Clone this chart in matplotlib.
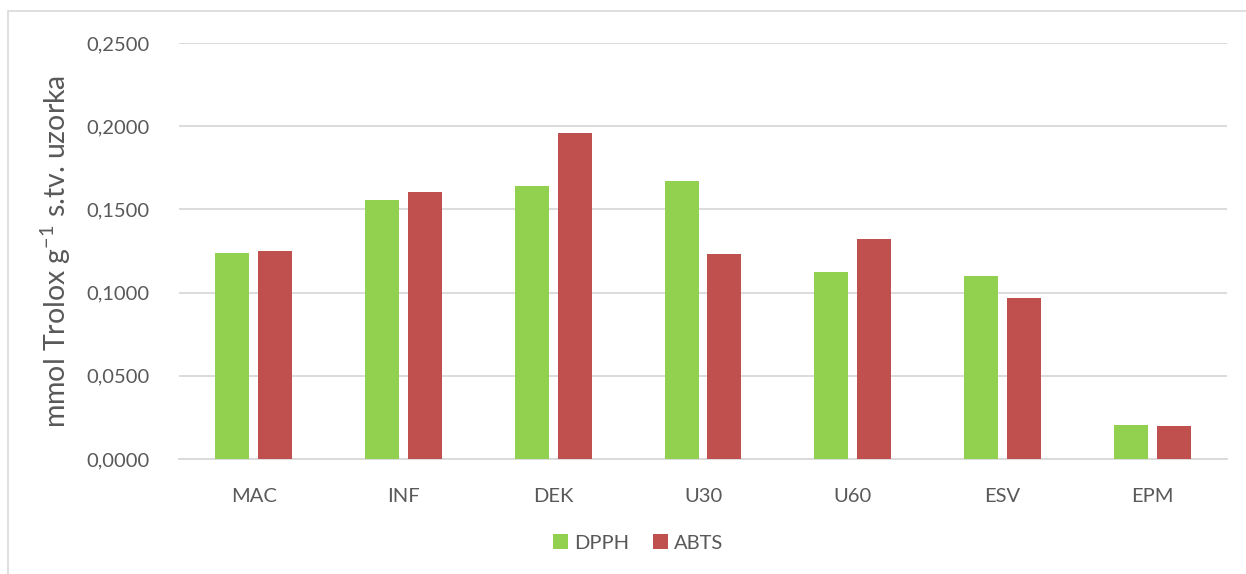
import matplotlib
matplotlib.use("Agg")
import matplotlib.pyplot as plt
import matplotlib.patches as mpatches
import numpy as np

categories = ["MAC", "INF", "DEK", "U30", "U60", "ESV", "EPM"]
dpph = [0.1238, 0.1557, 0.1640, 0.1670, 0.1122, 0.1100, 0.0204]
abts = [0.1250, 0.1605, 0.1960, 0.1232, 0.1320, 0.0970, 0.0198]
series_names = ["DPPH", "ABTS"]

plt.rcParams['font.family'] = ['Lato', 'DejaVu Sans']
plt.rcParams['mathtext.fontset'] = 'custom'
plt.rcParams['mathtext.rm'] = 'Lato'
plt.rcParams['mathtext.it'] = 'Lato:italic'

green = '#92D050'
red = '#C0504D'
text_color = '#595959'
grid_color = '#D9D9D9'

fig = plt.figure(figsize=(12.46, 5.74), dpi=100)
ax = fig.add_axes([179 / 1246, 1 - 459 / 574, 1048 / 1246, 416 / 574])

# light chart-area border
fig.patches.append(mpatches.Rectangle((8 / 1246, -0.1), 1.2, 1 - 11 / 574 + 0.1,
                                      transform=fig.transFigure, fill=False,
                                      edgecolor='#D9D9D9', linewidth=1.2))

x = np.arange(len(categories))
w = 0.227
off = 0.143
ax.bar(x - off, dpph, width=w, color=green, label=series_names[0], zorder=3)
ax.bar(x + off, abts, width=w, color=red, label=series_names[1], zorder=3)

ax.set_xlim(-0.5, len(categories) - 0.5)
ax.set_ylim(0, 0.25)
ticks = np.arange(0, 0.2501, 0.05)
ax.set_yticks(ticks)
ax.set_yticklabels([f"{v:.4f}".replace('.', ',') for v in ticks])
ax.set_xticks(x)
ax.set_xticklabels(categories)

ax.grid(axis='y', color=grid_color, linewidth=1.3, zorder=0)
ax.set_axisbelow(True)
for s in ['top', 'right', 'left']:
    ax.spines[s].set_visible(False)
ax.spines['bottom'].set_color(grid_color)
ax.spines['bottom'].set_linewidth(1.3)
ax.tick_params(axis='both', length=0, colors=text_color, labelsize=14.5)
ax.tick_params(axis='y', pad=21)
ax.tick_params(axis='x', pad=21)

ax.set_ylabel(r"mmol Trolox g$^{-1}$ s.tv. uzorka", fontsize=20.5, color=text_color, labelpad=10)

fig.legend(loc='center', bbox_to_anchor=(0.512, 1 - 543 / 574), ncol=2, frameon=False,
           fontsize=14.5, labelcolor=text_color, handlelength=0.75, handleheight=0.75,
           handletextpad=0.3, columnspacing=1.2)

fig.savefig("out.png", dpi=100)
